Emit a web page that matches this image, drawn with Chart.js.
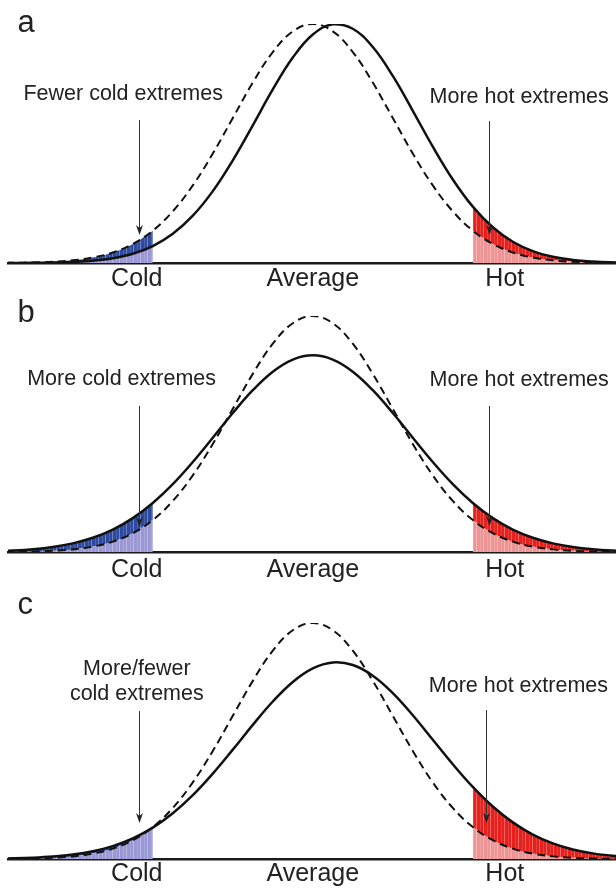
<!DOCTYPE html>
<html>
<head>
<meta charset="utf-8">
<title>Temperature distributions and extremes</title>
<script src="https://cdn.jsdelivr.net/npm/chart.js@4/dist/chart.umd.min.js"></script>
<style>
    html, body {
        margin: 0;
        padding: 0;
        background: #ffffff;
    }

    #wrap {
        position: relative;
        width: 616px;
        height: 889px;
    }

    #wrap canvas {
        position: absolute;
        left: 0;
        top: 0;
    }
</style>
</head>
<body>

<div id="wrap">
    <canvas id="panelA" width="616" height="889"></canvas>
    <canvas id="panelB" width="616" height="889"></canvas>
    <canvas id="panelC" width="616" height="889"></canvas>
</div>

<script>

// temperature axis, in standard deviations of the earlier climate
const xValues = [
    -4, -3.75, -3.5, -3.25, -3, -2.75, -2.5, -2.25, -2,
    -1.75, -1.5, -1.25, -1, -0.75, -0.5, -0.25, 0,
    0.25, 0.5, 0.75, 1, 1.25, 1.5, 1.75, 2,
    2.25, 2.5, 2.75, 3, 3.25, 3.5, 3.75, 4
];

// earlier climate (dashed in every panel)
const previousClimate = [
    0.0003, 0.0009, 0.0022, 0.0051, 0.0111, 0.0228, 0.0439, 0.0796, 0.1353,
    0.2163, 0.3247, 0.4578, 0.6065, 0.7548, 0.8825, 0.9692, 1.0,
    0.9692, 0.8825, 0.7548, 0.6065, 0.4578, 0.3247, 0.2163, 0.1353,
    0.0796, 0.0439, 0.0228, 0.0111, 0.0051, 0.0022, 0.0009, 0.0003
];

// a: mean shifted warmer
const shiftedMean = [
    0.0001, 0.0003, 0.0007, 0.0018, 0.0043, 0.0095, 0.0198, 0.0387, 0.0710,
    0.1223, 0.1979, 0.3008, 0.4296, 0.5762, 0.7261, 0.8596, 0.9560,
    0.9988, 0.9802, 0.9037, 0.7827, 0.6368, 0.4868, 0.3495, 0.2357,
    0.1494, 0.0889, 0.0497, 0.0261, 0.0129, 0.0060, 0.0026, 0.0011
];

// b: wider spread, same mean
const widerSpread = [
    0.0032, 0.0063, 0.0118, 0.0213, 0.0366, 0.0603, 0.0951, 0.1437, 0.2078,
    0.2877, 0.3815, 0.4844, 0.5889, 0.6855, 0.7640, 0.8154, 0.8333,
    0.8154, 0.7640, 0.6855, 0.5889, 0.4844, 0.3815, 0.2877, 0.2078,
    0.1437, 0.0951, 0.0603, 0.0366, 0.0213, 0.0118, 0.0063, 0.0032
];

// c: shifted mean and wider spread
const shiftedWider = [
    0.0014, 0.0028, 0.0055, 0.0105, 0.0190, 0.0330, 0.0548, 0.0871, 0.1328,
    0.1937, 0.2705, 0.3619, 0.4634, 0.5683, 0.6673, 0.7503, 0.8077,
    0.8326, 0.8218, 0.7768, 0.7030, 0.6092, 0.5054, 0.4016, 0.3055,
    0.2225, 0.1552, 0.1037, 0.0663, 0.0406, 0.0238, 0.0134, 0.0072
];

const tickValues = [-2.2, 0, 2.4];
const tickLabels = ["Cold", "Average", "Hot"];

const coldLimit = -2;
const hotLimit = 2;

const FONT = "'Liberation Sans', Arial, Helvetica, sans-serif";
const INK = "#222222";

const panels = [
    {
        canvas: "panelA",
        letter: "a",
        curve: shiftedMean,
        top: 24,
        baseline: 263,
        labelPad: 1,
        letterAt: { x: -3.69, y: 0.967 },
        notes: [
            {
                lines: ["Fewer cold extremes"],
                x: -2.37, y: 0.682,
                arrowX: -2.17, arrowFrom: 0.598, arrowTo: 0.117
            },
            {
                lines: ["More hot extremes"],
                x: 2.58, y: 0.669,
                arrowX: 2.2, arrowFrom: 0.594, arrowTo: 0.117
            }
        ]
    },
    {
        canvas: "panelB",
        letter: "b",
        curve: widerSpread,
        top: 316,
        baseline: 552,
        labelPad: 3,
        letterAt: { x: -3.69, y: 0.975 },
        notes: [
            {
                lines: ["More cold extremes"],
                x: -2.39, y: 0.708,
                arrowX: -2.17, arrowFrom: 0.619, arrowTo: 0.106
            },
            {
                lines: ["More hot extremes"],
                x: 2.58, y: 0.703,
                arrowX: 2.2, arrowFrom: 0.619, arrowTo: 0.110
            }
        ]
    },
    {
        canvas: "panelC",
        letter: "c",
        curve: shiftedWider,
        top: 623,
        baseline: 859,
        labelPad: 0,
        letterAt: { x: -3.69, y: 1.038 },
        notes: [
            {
                lines: ["More/fewer", "cold extremes"],
                x: -2.2, y: 0.78,
                arrowX: -2.17, arrowFrom: 0.627, arrowTo: 0.153
            },
            {
                lines: ["More hot extremes"],
                x: 2.57, y: 0.708,
                arrowX: 2.16, arrowFrom: 0.631, arrowTo: 0.153
            }
        ]
    }
];

const AXIS_HEIGHT = 30;
const PAGE_HEIGHT = 889;

function stripes(color) {

    // thin pale vertical streaks through the tail shading
    const tile = document.createElement("canvas");
    tile.width = 7;
    tile.height = 4;

    const t = tile.getContext("2d");
    t.fillStyle = color;
    t.fillRect(0, 0, 7, 4);
    t.fillStyle = "rgba(255,255,255,.32)";
    t.fillRect(0, 0, 1, 4);
    t.fillStyle = "rgba(255,255,255,.14)";
    t.fillRect(4, 0, 1, 4);

    return t.createPattern(tile, "repeat");
}

function toPoints(values) {
    return xValues.map((x, i) => ({ x, y: values[i] }));
}

function tail(a, b, pick, inside) {
    return xValues
        .map((x, i) => ({ x, y: pick(a[i], b[i]) }))
        .filter(p => inside(p.x));
}

const isCold = x => x <= coldLimit;
const isHot = x => x >= hotLimit;

// labels, arrows and the panel letter
const notesPlugin = {

    id: "notes",

    afterDraw(chart, args, opts) {

        const ctx = chart.ctx;
        const xs = chart.scales.x;
        const ys = chart.scales.y;

        ctx.save();

        ctx.fillStyle = INK;
        ctx.textBaseline = "alphabetic";

        ctx.font = "31px " + FONT;
        ctx.textAlign = "left";
        ctx.fillText(
            opts.letter,
            xs.getPixelForValue(opts.letterAt.x),
            ys.getPixelForValue(opts.letterAt.y)
        );

        ctx.font = "21.5px " + FONT;
        ctx.textAlign = "center";

        opts.notes.forEach(n => {

            const tx = xs.getPixelForValue(n.x);
            const ty = ys.getPixelForValue(n.y);

            n.lines.forEach((line, i) => {
                ctx.fillText(line, tx, ty + i * 25);
            });

            const ax = Math.round(xs.getPixelForValue(n.arrowX)) + 0.5;
            const y1 = ys.getPixelForValue(n.arrowFrom);
            const y2 = ys.getPixelForValue(n.arrowTo);

            ctx.strokeStyle = "#333333";
            ctx.lineWidth = 1;
            ctx.beginPath();
            ctx.moveTo(ax, y1);
            ctx.lineTo(ax, y2 - 6);
            ctx.stroke();

            ctx.fillStyle = "#222222";
            ctx.beginPath();
            ctx.moveTo(ax, y2);
            ctx.lineTo(ax - 3.5, y2 - 10);
            ctx.lineTo(ax, y2 - 7);
            ctx.lineTo(ax + 3.5, y2 - 10);
            ctx.closePath();
            ctx.fill();

            ctx.fillStyle = INK;
        });

        ctx.restore();
    }
};

function createPanel(p) {

    const ctx = document.getElementById(p.canvas).getContext("2d");

    const lower = (a, b) => Math.min(a, b);
    const upper = (a, b) => Math.max(a, b);

    return new Chart(ctx, {

        type: "line",

        data: {
            datasets: [
                {
                    data: toPoints(previousClimate),
                    borderColor: "#111111",
                    borderWidth: 2,
                    borderDash: [8, 5],
                    fill: false
                },
                {
                    data: toPoints(p.curve),
                    borderColor: "#111111",
                    borderWidth: 2.5,
                    fill: false
                },
                {
                    data: tail(previousClimate, p.curve, lower, isCold),
                    borderWidth: 0,
                    backgroundColor: stripes("#9a98d4"),
                    fill: "origin"
                },
                {
                    data: tail(previousClimate, p.curve, upper, isCold),
                    borderWidth: 0,
                    backgroundColor: stripes("#2e4a9e"),
                    fill: "-1"
                },
                {
                    data: tail(previousClimate, p.curve, lower, isHot),
                    borderWidth: 0,
                    backgroundColor: stripes("#ef9494"),
                    fill: "origin"
                },
                {
                    data: tail(previousClimate, p.curve, upper, isHot),
                    borderWidth: 0,
                    backgroundColor: stripes("#e6201c"),
                    fill: "-1"
                }
            ]
        },

        options: {

            responsive: false,
            animation: false,
            events: [],

            layout: {
                padding: {
                    left: 8,
                    right: 0,
                    top: p.top,
                    bottom: PAGE_HEIGHT - p.baseline - AXIS_HEIGHT
                }
            },

            elements: {
                point: { radius: 0 },
                line: { tension: 0.4 }
            },

            plugins: {
                legend: { display: false },
                tooltip: { enabled: false },
                notes: {
                    letter: p.letter,
                    letterAt: p.letterAt,
                    notes: p.notes
                }
            },

            scales: {

                x: {
                    type: "linear",
                    min: -3.81,
                    max: 3.79,
                    grid: { display: false, drawTicks: false },
                    border: { display: true, color: "#1a1a1a", width: 2.5 },
                    afterBuildTicks(scale) {
                        scale.ticks = tickValues.map(value => ({ value }));
                    },
                    afterFit(scale) {
                        scale.height = AXIS_HEIGHT;
                    },
                    ticks: {
                        autoSkip: false,
                        maxRotation: 0,
                        padding: p.labelPad,
                        color: INK,
                        font: { family: FONT, size: 25 },
                        callback: (value, index) => tickLabels[index]
                    }
                },

                y: {
                    display: false,
                    min: 0,
                    max: 1
                }
            }
        },

        plugins: [notesPlugin]
    });
}

panels.forEach(createPanel);

</script>
</body>
</html>
